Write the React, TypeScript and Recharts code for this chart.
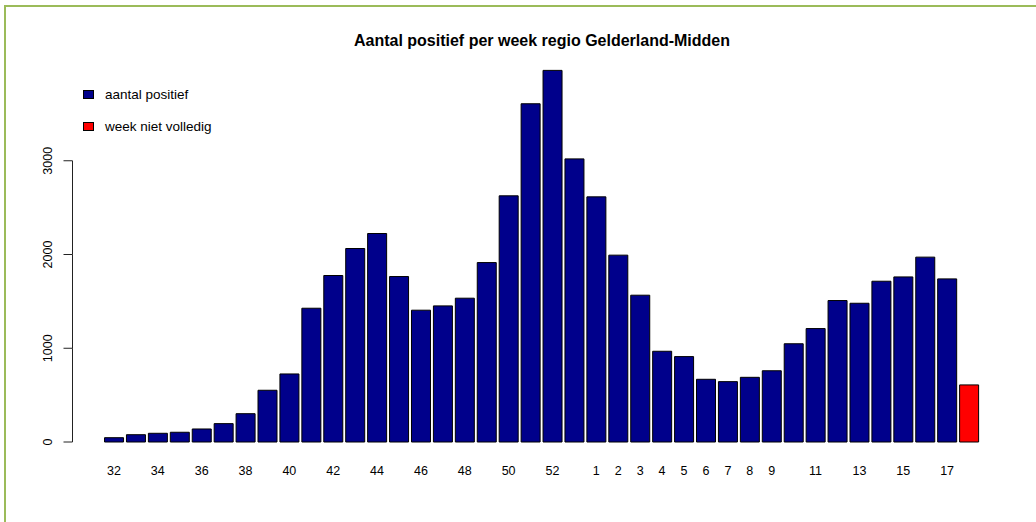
import { BarChart, Bar, XAxis, YAxis, Cell, Legend } from 'recharts';

const weeks = [
  '32', '33', '34', '35', '36', '37', '38', '39', '40', '41', '42', '43', '44', '45', '46', '47', '48', '49', '50', '51', '52', '53',
  '1', '2', '3', '4', '5', '6', '7', '8', '9', '10', '11', '12', '13', '14', '15', '16', '17', '18',
];
const positives = [
  46, 78, 93, 104, 139, 196, 302, 552, 726, 1427, 1776, 2064, 2224, 1765, 1406, 1452, 1534, 1914, 2626, 3608, 3964, 3020,
  2615, 1993, 1566, 968, 911, 669, 644, 690, 760, 1048, 1210, 1509, 1480, 1715, 1761, 1972, 1740, 609,
];
// last week is not complete yet
const incompleteWeek = '18';
const shownLabels = ['32', '34', '36', '38', '40', '42', '44', '46', '48', '50', '52', '1', '2', '3', '4', '5', '6', '7', '8', '9', '11', '13', '15', '17'];
const yTicks = [0, 1000, 2000, 3000];
const legendItems = [
  { label: 'aantal positief', color: '#00008B' },
  { label: 'week niet volledig', color: '#FF0000' },
];

const data = weeks.map((w, i) => ({ week: w, value: positives[i] }));

const W = 1036;
const H = 522;
const MARGIN = { top: 67, right: 56, bottom: 50, left: 0 };
const X_AXIS_H = 30;
const Y_MAX = 4000;
const PLOT_H = H - MARGIN.top - MARGIN.bottom - X_AXIS_H;
const STEP_PX = (PLOT_H * 1000) / Y_MAX;
const AXIS_X = 72.5;
const LABEL_X = 48;
const FONT = '"Liberation Sans", Arial, sans-serif';

const YTick = (props: any) => {
  const { y, payload } = props;
  const v = payload.value;
  return (
    <g>
      <line x1={AXIS_X - 9} x2={AXIS_X} y1={y} y2={y} stroke="#222" />
      {v > 0 && <line x1={AXIS_X} x2={AXIS_X} y1={y} y2={y + STEP_PX} stroke="#222" />}
      <text
        x={LABEL_X}
        y={y}
        transform={`rotate(-90 ${LABEL_X} ${y})`}
        textAnchor="middle"
        dominantBaseline="central"
        fontSize={12.5}
        fontFamily={FONT}
        fill="#000"
      >
        {v}
      </text>
    </g>
  );
};

const LegendBox = () => (
  <div style={{ fontFamily: FONT, fontSize: 13.5, color: '#000' }}>
    {legendItems.map((it) => (
      <div key={it.label} style={{ display: 'flex', alignItems: 'center', height: 32 }}>
        <span
          style={{
            display: 'inline-block',
            width: 9,
            height: 7,
            background: it.color,
            border: '1px solid #000',
            marginRight: 11,
          }}
        />
        <span>{it.label}</span>
      </div>
    ))}
  </div>
);

export default function App() {
  return (
    <div style={{ position: 'fixed', left: 0, top: 0, width: W, height: H, background: '#fff', overflow: 'hidden' }}>
      <div
        style={{
          position: 'absolute',
          left: 4,
          top: 5,
          width: 1200,
          height: 700,
          borderLeft: '2px solid #9BBB59',
          borderTop: '2px solid #9BBB59',
        }}
      />
      <div
        style={{
          position: 'absolute',
          left: 104,
          width: 876,
          top: 32,
          textAlign: 'center',
          fontFamily: FONT,
          fontWeight: 'bold',
          fontSize: 16,
          color: '#000',
        }}
      >
        Aantal positief per week regio Gelderland-Midden
      </div>
      <div style={{ position: 'absolute', left: 0, top: 0 }}>
        <BarChart width={W} height={H} data={data} margin={MARGIN} barCategoryGap="7%">
          <XAxis
            dataKey="week"
            height={X_AXIS_H}
            interval={0}
            axisLine={false}
            tickLine={false}
            tickMargin={18}
            padding={{ left: 31, right: 0 }}
            tick={{ fontSize: 12.5, fontFamily: FONT, fill: '#000' }}
            tickFormatter={(w: string) => (shownLabels.includes(w) ? w : '')}
          />
          <YAxis
            width={72}
            domain={[0, Y_MAX]}
            ticks={yTicks}
            axisLine={false}
            tickLine={false}
            tick={<YTick />}
          />
          <Legend
            layout="vertical"
            align="center"
            verticalAlign="middle"
            content={<LegendBox />}
            wrapperStyle={{ left: 83, top: 78, width: 'auto', height: 'auto' }}
          />
          <Bar dataKey="value" stroke="#000" strokeWidth={1} isAnimationActive={false}>
            {data.map((d) => (
              <Cell key={d.week} fill={d.week === incompleteWeek ? '#FF0000' : '#00008B'} />
            ))}
          </Bar>
        </BarChart>
      </div>
    </div>
  );
}
